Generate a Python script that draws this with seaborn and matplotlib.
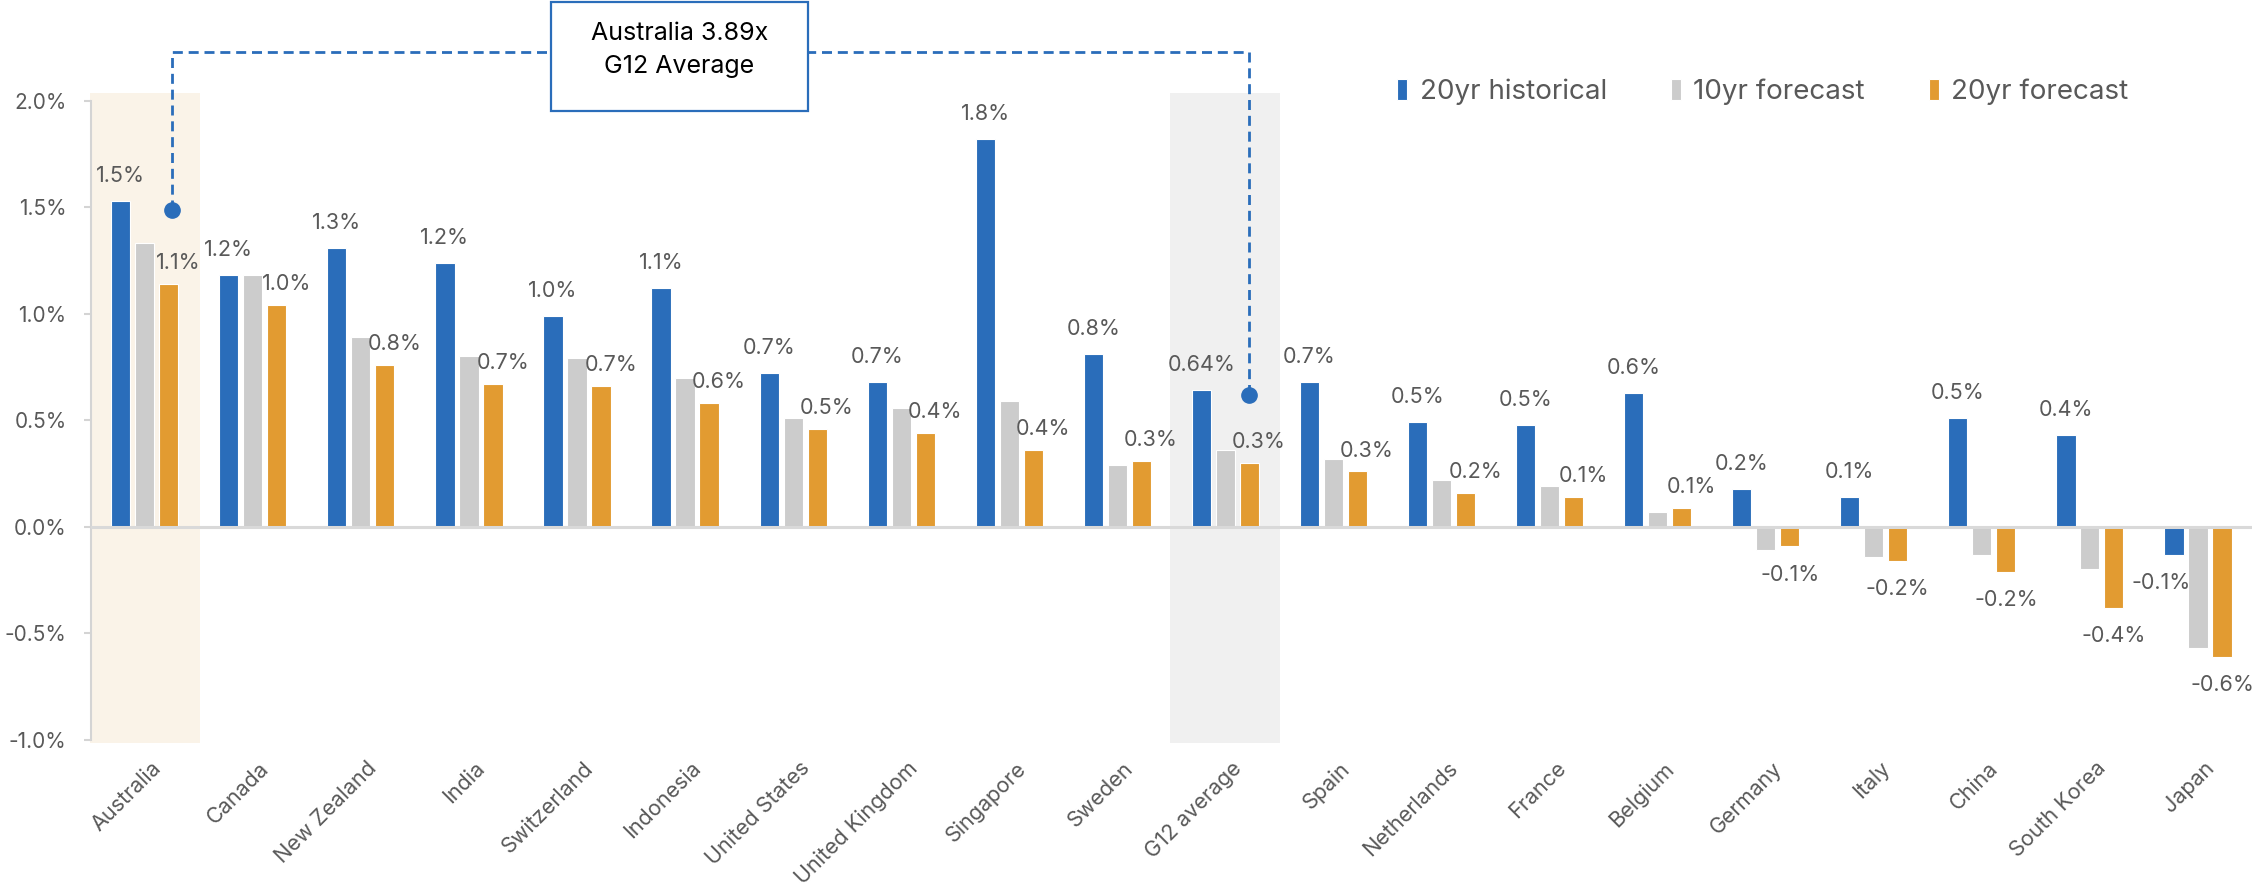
import matplotlib
matplotlib.use("Agg")
import matplotlib.pyplot as plt
import matplotlib.transforms as mtransforms
from matplotlib.patches import Rectangle
import pandas as pd
import seaborn as sns

# ---------------- data ----------------
categories = ["Australia", "Canada", "New Zealand", "India", "Switzerland",
              "Indonesia", "United States", "United Kingdom", "Singapore",
              "Sweden", "G12 average", "Spain", "Netherlands", "France",
              "Belgium", "Germany", "Italy", "China", "South Korea", "Japan"]
hist_20yr = [1.53, 1.18, 1.31, 1.24, 0.99, 1.12, 0.72, 0.68, 1.82, 0.81,
             0.64, 0.68, 0.49, 0.48, 0.63, 0.18, 0.14, 0.51, 0.43, -0.13]
fcst_10yr = [1.33, 1.18, 0.89, 0.80, 0.79, 0.70, 0.51, 0.56, 0.59, 0.29,
             0.36, 0.32, 0.22, 0.19, 0.07, -0.11, -0.14, -0.13, -0.20, -0.57]
fcst_20yr = [1.14, 1.04, 0.76, 0.67, 0.66, 0.58, 0.46, 0.44, 0.36, 0.31,
             0.30, 0.26, 0.16, 0.14, 0.09, -0.09, -0.16, -0.21, -0.38, -0.61]
series_names = ["20yr historical", "10yr forecast", "20yr forecast"]
y_ticks = [-1.0, -0.5, 0.0, 0.5, 1.0, 1.5, 2.0]
highlight_cats = ["Australia", "G12 average"]
callout_text = "Australia 3.89x\nG12 Average"
two_decimal_cat = "G12 average"

# ---------------- style ----------------
BLUE, GRAY, ORANGE = "#2A6DBA", "#CCCCCC", "#E29B31"
TXT = "#595959"
AXC = "#D4D4D4"
FONT = ["Inter", "DejaVu Sans"]

sns.set_theme(style="white")
plt.rcParams["font.family"] = FONT

W, H = 2254, 894
fig = plt.figure(figsize=(W / 100, H / 100), dpi=100)
ax = fig.add_axes([90.7 / W, 1 - 740 / H, (2252 - 90.7) / W, (740 - 100.6) / H])

df = pd.DataFrame({"country": categories * 3,
                   "series": [series_names[0]] * len(categories)
                   + [series_names[1]] * len(categories)
                   + [series_names[2]] * len(categories),
                   "value": hist_20yr + fcst_10yr + fcst_20yr})

sns.barplot(data=df, x="country", y="value", hue="series", order=categories,
            hue_order=series_names, palette=[BLUE, GRAY, ORANGE],
            saturation=1, width=0.666, gap=0.2, edgecolor="white",
            linewidth=0.8, errorbar=None, ax=ax, zorder=2)

ax.set_xlim(-0.5, 19.5)
ax.set_ylim(-1.0, 2.0)

# highlight bands
for cat, col in zip(highlight_cats, ["#FAF3E8", "#F0F0F0"]):
    i = categories.index(cat)
    ax.add_patch(Rectangle((i - 0.51, -1.015), 1.02, 3.05, facecolor=col,
                           edgecolor="none", zorder=0, clip_on=False))

# zero line
ax.axhline(0, color="#D9D9D9", lw=2.2, zorder=3)

# axes styling
for s in ["top", "right", "bottom"]:
    ax.spines[s].set_visible(False)
ax.spines["left"].set_color(AXC)
ax.spines["left"].set_linewidth(1.5)
ax.spines["left"].set_bounds(-1.0, 2.0)
ax.set_yticks(y_ticks)
ax.set_yticklabels([f"{t:.1f}%" for t in y_ticks])
ax.tick_params(axis="y", left=True, length=5.3, width=1.5, color=AXC, pad=12,
               labelsize=15, labelcolor=TXT)
ax.tick_params(axis="x", bottom=False, length=0, pad=13, labelsize=15.5,
               labelcolor=TXT)
ax.set_xlabel("")
ax.set_ylabel("")
offset = mtransforms.ScaledTranslation(6 / 100, 0, fig.dpi_scale_trans)
for lab in ax.get_xticklabels():
    lab.set_rotation(45)
    lab.set_ha("right")
    lab.set_va("top")
    lab.set_rotation_mode("anchor")
    lab.set_transform(lab.get_transform() + offset)

# data labels (20yr historical and 20yr forecast)
def fmt(v, cat, two_dec=False):
    return f"{v:.2f}%" if (two_dec and cat == two_decimal_cat) else f"{v:.1f}%"

LBL = 15.5
for bar, cat in zip(ax.containers[0], categories):
    h = bar.get_height()
    xc = bar.get_x() + bar.get_width() / 2
    off = (0, 18) if h >= 0 else (-9, -20.5)
    ax.annotate(fmt(h, cat, True), (xc, h), xytext=off,
                textcoords="offset points", ha="center", va="center",
                fontsize=LBL, color=TXT, zorder=5)
for bar, cat in zip(ax.containers[2], categories):
    h = bar.get_height()
    xc = bar.get_x() + bar.get_width() / 2
    off = (7, 15) if h >= 0 else (0, -20.5)
    ax.annotate(fmt(h, cat), (xc, h), xytext=off, textcoords="offset points",
                ha="center", va="center", fontsize=LBL, color=TXT, zorder=5)

# callout connector
ia, ig = categories.index("Australia"), categories.index("G12 average")
ob = ax.containers[2]
xa = ob[ia].get_x() + ob[ia].get_width() / 2 + 0.03
xg = ob[ig].get_x() + ob[ig].get_width() / 2
ya = hist_20yr[ia] - 0.045
yg = hist_20yr[ig] - 0.02
ytop = 2.23
ax.plot([xa, xa, xg, xg], [ya, ytop, ytop, yg], color=BLUE, lw=2,
        dashes=(3.6, 2.1), clip_on=False, zorder=6)
ax.plot([xa, xg], [ya, yg], "o", color=BLUE, ms=11, clip_on=False, zorder=7)

# callout box
fig.patches.append(Rectangle((551 / W, 1 - 111 / H), 257 / W, 109 / H,
                             transform=fig.transFigure, facecolor="white",
                             edgecolor=BLUE, lw=1.6, zorder=10))
fig.text(679.5 / W, 1 - 50 / H, callout_text, ha="center", va="center",
         fontsize=18, color="black", linespacing=1.5, zorder=11)

# legend
handles, labels = ax.get_legend_handles_labels()
ax.legend(handles, labels, loc="center left",
          bbox_to_anchor=(1397 / W, 1 - 92 / H), bbox_transform=fig.transFigure,
          ncol=3, frameon=False, fontsize=20, labelcolor=TXT,
          handlelength=0.36, handleheight=0.75, handletextpad=0.45,
          columnspacing=2.3, borderpad=0, borderaxespad=0)

fig.savefig("out.png", dpi=100, facecolor="white")
